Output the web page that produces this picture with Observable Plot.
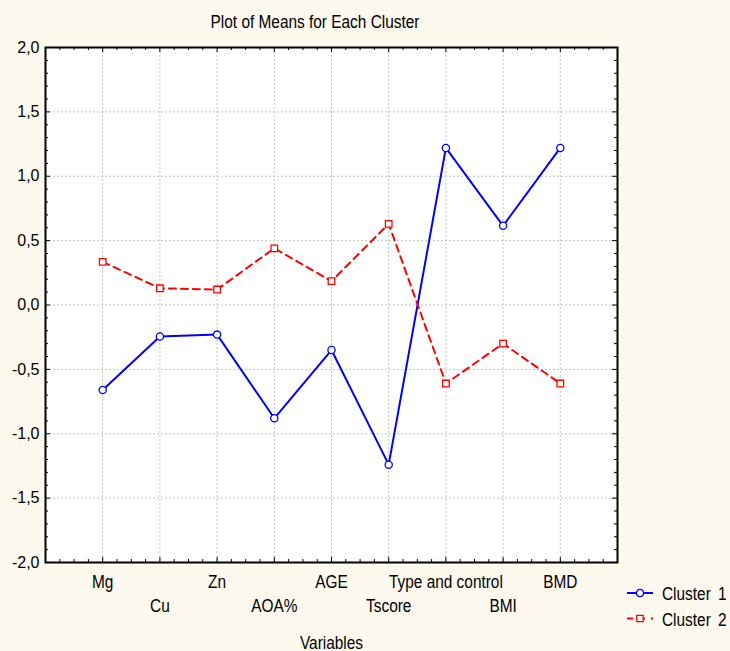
<!DOCTYPE html>
<html>
<head>
<meta charset="utf-8">
<script src="https://cdn.jsdelivr.net/npm/d3@7"></script>
<script src="https://cdn.jsdelivr.net/npm/@observablehq/plot@0.6"></script>
<style>
  body { margin: 0; background: #fdf9ee; }
  #chart { position: relative; width: 730px; height: 651px; background: #fdf9ee; }
  #chart svg { display: block; }
</style>
</head>
<body>
<div id="chart"></div>
<script>
// Cluster means per variable
const variables = ["Mg", "Cu", "Zn", "AOA%", "AGE", "Tscore", "Type and control", "BMI", "BMD"];
const cluster1 = [-0.66, -0.245, -0.23, -0.88, -0.35, -1.24, 1.22, 0.615, 1.22];
const cluster2 = [0.335, 0.13, 0.12, 0.44, 0.185, 0.63, -0.61, -0.30, -0.61];
const seriesNames = ["Cluster", "Cluster"];
const seriesNumbers = ["1", "2"];
const yTicks = [-2, -1.5, -1, -0.5, 0, 0.5, 1, 1.5, 2];
const titleText = "Plot of Means for Each Cluster";
const xLabel = "Variables";

// condensed labels: a narrow face if present, otherwise a squeezed sans
const narrow = "'Liberation Sans Narrow', 'Liberation Sans', sans-serif";
const regular = "'Liberation Sans', Arial, sans-serif";
const squeeze = 0.88;
const blue = "#0000ff";
const red = "#ff0000";

const positions = variables.map((_, i) => i + 1);
const rows1 = variables.map((v, i) => ({variable: v, pos: i + 1, value: cluster1[i]}));
const rows2 = variables.map((v, i) => ({variable: v, pos: i + 1, value: cluster2[i]}));

const fmt = d => d.toFixed(1).replace(".", ",");
const nameAt = p => variables[p - 1];

// minor / major tick positions along both axes
const xMinor = d3.range(0, 41).map(k => k / 4).filter(v => v % 1 !== 0);
const xMajor = d3.range(0, 11);
const yMinor = d3.range(-20, 21).map(k => k / 10).filter(v => Math.abs(v * 2 - Math.round(v * 2)) > 1e-9);

const grid = {stroke: "#c2c2c2", strokeDasharray: "2,2", strokeWidth: 1};
const tickStyle = {stroke: "black", strokeWidth: 1};

const plot = Plot.plot({
  width: 730,
  height: 651,
  marginLeft: 45,
  marginRight: 113,
  marginTop: 47,
  marginBottom: 89,
  style: {background: "transparent", overflow: "visible"},
  x: {type: "linear", domain: [0, 10], axis: null, label: null},
  y: {domain: [-2, 2], axis: null, label: null},
  marks: [
    Plot.frame({fill: "white", stroke: "none"}),
    Plot.ruleY(yTicks, {y: d => d, ...grid}),
    Plot.ruleX(positions, {x: d => d, ...grid}),

    // inward ticks on all four sides
    Plot.ruleX(xMinor, {x: d => d, y1: -2, y2: -2, insetTop: -3, ...tickStyle}),
    Plot.ruleX(xMajor, {x: d => d, y1: -2, y2: -2, insetTop: -5, ...tickStyle}),
    Plot.ruleX(xMinor, {x: d => d, y1: 2, y2: 2, insetBottom: -3, ...tickStyle}),
    Plot.ruleX(xMajor, {x: d => d, y1: 2, y2: 2, insetBottom: -5, ...tickStyle}),
    Plot.ruleY(yMinor, {y: d => d, x1: 0, x2: 0, insetRight: -3, ...tickStyle}),
    Plot.ruleY(yTicks, {y: d => d, x1: 0, x2: 0, insetRight: -5, ...tickStyle}),
    Plot.ruleY(yMinor, {y: d => d, x1: 10, x2: 10, insetLeft: -3, ...tickStyle}),
    Plot.ruleY(yTicks, {y: d => d, x1: 10, x2: 10, insetLeft: -5, ...tickStyle}),

    // series
    Plot.line(rows1, {x: "pos", y: "value", stroke: blue, strokeWidth: 2}),
    Plot.line(rows2, {x: "pos", y: "value", stroke: red, strokeWidth: 2, strokeDasharray: "7,5"}),
    Plot.dot(rows1, {x: "pos", y: "value", r: 3.6, symbol: "circle", stroke: blue, fill: "white", strokeWidth: 1.3}),
    Plot.dot(rows2, {x: "pos", y: "value", r: 3.7, symbol: "square", stroke: red, fill: "white", strokeWidth: 1.3}),

    Plot.frame({stroke: "black", strokeWidth: 2}),

    // axes
    Plot.axisY(yTicks, {
      anchor: "left", label: null, tickSize: 0, tickPadding: 6, tickFormat: fmt,
      fontSize: 16, fontFamily: regular, fill: "black"
    }),
    Plot.axisX(positions.filter(p => p % 2 === 1), {
      anchor: "bottom", label: null, tickSize: 0, tickPadding: 13.5, tickFormat: nameAt,
      fontSize: 17.5, fontFamily: narrow, fill: "black"
    }),
    Plot.axisX(positions.filter(p => p % 2 === 0), {
      anchor: "bottom", label: null, tickSize: 0, tickPadding: 37.5, tickFormat: nameAt,
      fontSize: 17.5, fontFamily: narrow, fill: "black"
    }),
    Plot.text([xLabel], {
      frameAnchor: "bottom", dy: 86, lineAnchor: "bottom",
      fontSize: 17.5, fontFamily: narrow, fill: "black"
    })
  ]
});

document.getElementById("chart").appendChild(plot);

// title and legend drawn into the same SVG
const svg = d3.select(plot);
svg.append("text")
  .attr("x", 315).attr("y", 27.5)
  .attr("text-anchor", "middle")
  .attr("font-family", narrow).attr("font-size", 17.5)
  .attr("fill", "black")
  .text(titleText);

const legend = svg.append("g").attr("transform", "translate(627,593)");
const legendItems = [
  {name: seriesNames[0], num: seriesNumbers[0], color: blue, dash: null, symbol: d3.symbolCircle},
  {name: seriesNames[1], num: seriesNumbers[1], color: red, dash: "6,6", symbol: d3.symbolSquare}
];
legendItems.forEach((item, i) => {
  const g = legend.append("g").attr("transform", `translate(0,${i * 25.5})`);
  g.append("line").attr("x1", 0).attr("x2", 26).attr("y1", 0).attr("y2", 0)
    .attr("stroke", item.color).attr("stroke-width", 2)
    .attr("stroke-dasharray", item.dash);
  g.append("path").attr("transform", "translate(13,0)")
    .attr("d", d3.symbol(item.symbol, Math.PI * 3.6 * 3.6)())
    .attr("fill", "white").attr("stroke", item.color).attr("stroke-width", 1.3);
  g.append("text").attr("x", 35).attr("y", 7)
    .attr("text-anchor", "start")
    .attr("font-family", narrow).attr("font-size", 17.5)
    .attr("fill", "black")
    .text(item.name);
  g.append("text").attr("x", 91).attr("y", 7)
    .attr("text-anchor", "start")
    .attr("font-family", narrow).attr("font-size", 17.5)
    .attr("fill", "black")
    .text(item.num);
});

// condense the narrow-face labels when only the regular width face is installed
const hasNarrow = document.fonts && document.fonts.check("17px 'Liberation Sans Narrow'") &&
  (() => {
    const c = document.createElement("canvas").getContext("2d");
    c.font = "17px 'Liberation Sans Narrow', monospace";
    const a = c.measureText("Type and control").width;
    c.font = "17px monospace";
    return a !== c.measureText("Type and control").width;
  })();
if (!hasNarrow) {
  plot.querySelectorAll("text").forEach(t => {
    if (getComputedStyle(t).fontFamily.includes("Narrow")) {
      const w = t.getComputedTextLength();
      t.setAttribute("textLength", (w * squeeze).toFixed(1));
      t.setAttribute("lengthAdjust", "spacingAndGlyphs");
    }
  });
}
</script>
</body>
</html>
